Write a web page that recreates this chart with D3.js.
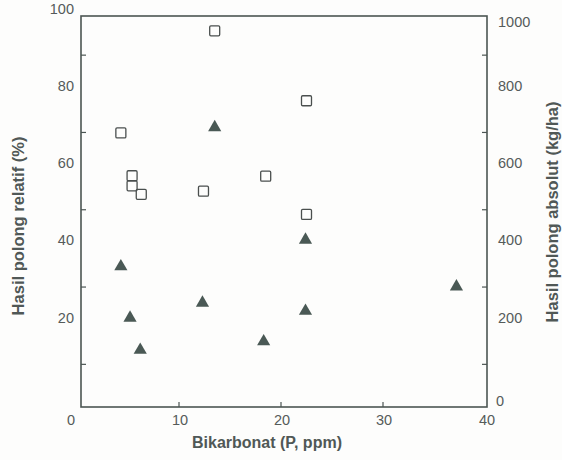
<!DOCTYPE html>
<html>
<head>
<meta charset="utf-8">
<script src="https://cdn.jsdelivr.net/npm/d3@7"></script>
<style>
  html, body { margin: 0; padding: 0; background: #fdfdfc; }
  svg { display: block; }
</style>
</head>
<body>
<svg id="chart" width="562" height="460"></svg>
<script>
// ---- data ----
const xTicks = [0, 10, 20, 30, 40];
const leftTickLabels = [20, 40, 60, 80, 100];   // the shared "0" is drawn by the x axis
const rightTickLabels = [0, 200, 400, 600, 800, 1000];
const leftMinorTicks = [10, 30, 50, 70, 90];
const rightMinorTicks = [100, 300, 500, 700, 900];

// relative yield (%) — open squares
const relX = [4.3, 5.4, 5.4, 6.3, 12.4, 13.5, 18.5, 22.5, 22.5];
const relY = [69.9, 58.8, 56.2, 54.0, 54.8, 96.3, 58.7, 78.2, 48.8];

// absolute yield (kg/ha) — filled triangles
const absX = [4.3, 5.2, 6.2, 12.3, 13.5, 18.3, 22.4, 22.4, 37.2];
const absY = [353, 220, 137, 259, 713, 159, 422, 238, 301];

// ---- layout ----
const frame = { left: 81, right: 487, top: 16, bottom: 407 };
const svg = d3.select("#chart");
const ink = "#4b5552";
const textCol = "#555b5a";

const x = d3.scaleLinear().domain([0, 40]).range([77, 485]);
const yL = d3.scaleLinear().domain([0, 100]).range([403, 16.5]);
const yR = d3.scaleLinear().domain([0, 1000]).range([403, 16.5]);

// frame
svg.append("rect")
  .attr("x", frame.left).attr("y", frame.top)
  .attr("width", frame.right - frame.left)
  .attr("height", frame.bottom - frame.top)
  .attr("fill", "none").attr("stroke", ink).attr("stroke-width", 1.6);

// minor inward ticks
svg.append("g").selectAll("line").data(leftMinorTicks).join("line")
  .attr("x1", frame.left).attr("x2", frame.left + 5)
  .attr("y1", d => yL(d)).attr("y2", d => yL(d))
  .attr("stroke", ink).attr("stroke-width", 1.2);
svg.append("g").selectAll("line").data(rightMinorTicks).join("line")
  .attr("x1", frame.right).attr("x2", frame.right - 5)
  .attr("y1", d => yR(d)).attr("y2", d => yR(d))
  .attr("stroke", ink).attr("stroke-width", 1.2);
svg.append("g").selectAll("line").data(xTicks.slice(1, -1)).join("line")
  .attr("x1", d => x(d)).attr("x2", d => x(d))
  .attr("y1", frame.bottom).attr("y2", frame.bottom - 5)
  .attr("stroke", ink).attr("stroke-width", 1.2);

// tick labels
const tickFont = "Liberation Sans, Arial, sans-serif";
svg.append("g").selectAll("text").data(leftTickLabels).join("text")
  .attr("x", 74)
  .attr("y", d => yL(d) - 3)
  .attr("text-anchor", "end")
  .attr("font-family", tickFont).attr("font-size", 14.5)
  .attr("fill", textCol)
  .text(d => d);
svg.append("g").selectAll("text").data(rightTickLabels).join("text")
  .attr("x", d => d === 0 ? 496 : 498)
  .attr("y", d => d === 0 ? yR(d) + 3 : (d === 1000 ? 27 : yR(d) - 3))
  .attr("text-anchor", "start")
  .attr("font-family", tickFont).attr("font-size", 14.5)
  .attr("fill", textCol)
  .text(d => d);
svg.append("g").selectAll("text").data(xTicks).join("text")
  .attr("x", d => d === 0 ? 71 : (d === 40 ? 487 : x(d) + 1))
  .attr("y", 425)
  .attr("text-anchor", "middle")
  .attr("font-family", tickFont).attr("font-size", 14.5)
  .attr("fill", textCol)
  .text(d => d);

// axis titles
const titleFont = "Liberation Sans, Arial, sans-serif";
svg.append("text")
  .attr("x", 267).attr("y", 448)
  .attr("text-anchor", "middle")
  .attr("font-family", titleFont).attr("font-size", 16).attr("font-weight", "bold")
  .attr("fill", "#505856")
  .text("Bikarbonat (P, ppm)");
svg.append("text")
  .attr("transform", "translate(24,226) rotate(-90)")
  .attr("text-anchor", "middle")
  .attr("font-family", titleFont).attr("font-size", 16.5).attr("font-weight", "bold")
  .attr("fill", "#505856")
  .text("Hasil polong relatif (%)");
svg.append("text")
  .attr("transform", "translate(558,212) rotate(-90)")
  .attr("text-anchor", "middle")
  .attr("font-family", titleFont).attr("font-size", 16.5).attr("font-weight", "bold")
  .attr("fill", "#505856")
  .text("Hasil polong absolut (kg/ha)");

// squares
const relData = relX.map((v, i) => [v, relY[i]]);
svg.append("g").selectAll("rect").data(relData).join("rect")
  .attr("x", d => x(d[0]) - 5).attr("y", d => yL(d[1]) - 5)
  .attr("width", 10).attr("height", 10)
  .attr("rx", 1.2)
  .attr("fill", "none").attr("stroke", "#4a4f4e").attr("stroke-width", 1.3);

// triangles
const absData = absX.map((v, i) => [v, absY[i]]);
const tri = d3.symbol().type(d3.symbolTriangle).size(75);
svg.append("g").selectAll("path").data(absData).join("path")
  .attr("transform", d => `translate(${x(d[0])},${yR(d[1])})`)
  .attr("d", tri)
  .attr("fill", "#4a5955");
</script>
</body>
</html>
